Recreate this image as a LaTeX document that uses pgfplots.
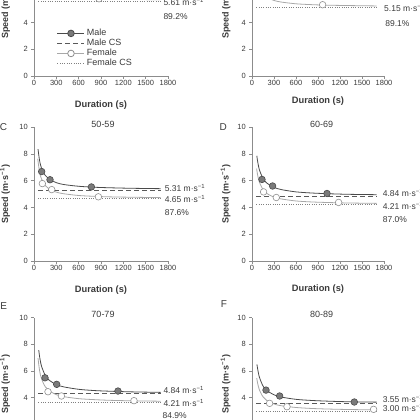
\documentclass[border=0pt]{standalone}
\usepackage{fontspec}
\setmainfont{Liberation Sans}
\usepackage{pgfplots}
\pgfplotsset{compat=1.18}
\definecolor{axisgray}{HTML}{8C8C8C}
\definecolor{maleline}{HTML}{4A4A4A}
\definecolor{malefill}{HTML}{7A7A7A}
\definecolor{malecs}{HTML}{595959}
\definecolor{femline}{HTML}{A8A8A8}
\definecolor{femmark}{HTML}{8F8F8F}
\definecolor{femcs}{HTML}{808080}
\definecolor{txt}{HTML}{3A3A3A}
\pgfplotsset{
 /pgf/number format/assume math mode=true,
 /pgf/number format/1000 sep={},
 panel/.style={scale only axis, height=133.7pt, xmin=0, xmax=1800, ymin=0, ymax=10,
   axis x line*=bottom, axis y line*=left,
   axis line style={draw=axisgray, line width=0.6pt},
   xtick={0,300,...,1800}, ytick={0,2,...,10},
   tick align=outside, major tick length=3pt,
   tick style={draw=axisgray, line width=0.6pt},
   ticklabel style={font=\fontsize{7.5}{9}\selectfont, text=txt},
   xticklabel style={inner sep=1.5pt},
   yticklabel style={inner sep=1.5pt, xshift=-1.5pt},
   clip=false, anchor=south west},
 mcurve/.style={maleline, line width=0.8pt, smooth, no marks},
 mpts/.style={only marks, mark=*, mark size=3.3pt, mark options={fill=malefill, draw=maleline, line width=0.6pt}},
 mcsl/.style={malecs, line width=1pt, dash pattern=on 5pt off 3pt, no marks},
 fcurve/.style={femline, line width=0.8pt, smooth, no marks},
 fpts/.style={only marks, mark=*, mark size=3.3pt, mark options={fill=white, draw=femmark, line width=0.6pt}},
 fcsl/.style={femcs, line width=0.9pt, dash pattern=on 1pt off 1.3pt, no marks},
}
\tikzset{vlab/.style={anchor=west, font=\fontsize{8.5}{10}\selectfont, text=txt, inner sep=0pt},
 xl/.style={font=\fontsize{9.3}{11}\selectfont\bfseries, text=txt},
 yl/.style={font=\fontsize{9}{11}\selectfont\bfseries, text=txt, rotate=90},
 ttl/.style={font=\fontsize{9}{11}\selectfont, text=txt},
 let/.style={font=\fontsize{10}{12}\selectfont, text=txt}}
\begin{document}
\begin{tikzpicture}
\path[use as bounding box] (0,0) rectangle (420pt,-420pt);
\clip (0,0) rectangle (420pt,-420pt);

% ---------- Panel A ----------
\begin{axis}[panel, width=134pt, at={(34pt,-76pt)},
  legend style={at={(axis description cs:0.17,0.365)}, anchor=north west, draw=none, fill=none,
    font=\fontsize{9}{10}\selectfont, text=txt, cells={anchor=west}, inner sep=0pt, row sep=-2pt},
  legend image code/.code={\draw[mark repeat=2,mark phase=2,#1] plot coordinates {(0pt,0pt) (13.5pt,0pt) (27pt,0pt)};}]
\addlegendimage{maleline, line width=0.8pt, mark=*, mark size=3.3pt, mark options={fill=malefill, draw=maleline, solid}}
\addlegendentry{Male}
\addlegendimage{mcsl}
\addlegendentry{Male CS}
\addlegendimage{femline, line width=0.8pt, mark=*, mark size=3.3pt, mark options={fill=white, draw=femmark, solid}}
\addlegendentry{Female}
\addlegendimage{fcsl}
\addlegendentry{Female CS}
\addplot[mcsl, forget plot] coordinates {(60,6.29) (1700,6.29)};
\addplot[fcsl, forget plot] coordinates {(60,5.61) (1700,5.61)};
\addplot[mcurve, forget plot] coordinates {(55,9.56) (75,8.69) (100,8.09) (150,7.49) (200,7.19) (300,6.89) (400,6.74) (600,6.59) (800,6.52) (1000,6.47) (1300,6.43) (1700,6.40)};
\addplot[fcurve, forget plot] coordinates {(50,8.61) (75,7.61) (100,7.11) (150,6.61) (200,6.36) (300,6.11) (400,5.99) (600,5.86) (800,5.80) (1000,5.76) (1300,5.73) (1700,5.70)};
\addplot[mpts, forget plot] coordinates {(95,7.95) (210,7.15) (760,6.52)};
\addplot[fpts, forget plot] coordinates {(105,7.0) (230,6.25) (873,5.78)};
\node[vlab] at (axis cs:1737,6.5) {6.29 m·s\textsuperscript{−1}};
\node[vlab] at (axis cs:1737,5.56) {5.61 m·s\textsuperscript{−1}};
\node[vlab] at (axis cs:1737,4.44) {89.2\%};
\node[xl] at (axis description cs:0.5,-0.217) {Duration (s)};
\node[yl] at (axis description cs:-0.215,0.5) {Speed (m·s\textsuperscript{−1})};
\end{axis}

% ---------- Panel B ----------
\begin{axis}[panel, width=132pt, at={(252pt,-76pt)}]
\addplot[mcsl] coordinates {(60,5.78) (1700,5.78)};
\addplot[fcsl] coordinates {(60,5.15) (1700,5.15)};
\addplot[mcurve] coordinates {(55,8.87) (75,8.05) (100,7.48) (150,6.91) (200,6.63) (300,6.35) (400,6.21) (600,6.06) (800,5.99) (1000,5.95) (1300,5.91) (1700,5.88)};
\addplot[fcurve] coordinates {(50,8.15) (75,7.15) (100,6.65) (150,6.15) (200,5.90) (300,5.65) (400,5.53) (600,5.40) (800,5.34) (1000,5.30) (1300,5.27) (1700,5.24)};
\addplot[mpts] coordinates {(100,7.3) (220,6.55) (800,6.0)};
\addplot[fpts] coordinates {(110,6.45) (250,6.0) (963,5.33)};
\node[vlab] at (axis cs:1800,5.98) {5.78 m·s\textsuperscript{−1}};
\node[vlab] at (axis cs:1800,5.06) {5.15 m·s\textsuperscript{−1}};
\node[vlab] at (axis cs:1815,3.94) {89.1\%};
\node[xl] at (axis description cs:0.5,-0.19) {Duration (s)};
\node[yl] at (axis description cs:-0.2,0.5) {Speed (m·s\textsuperscript{−1})};
\end{axis}

% ---------- Panel C ----------
\begin{axis}[panel, width=134pt, at={(34pt,-261pt)}]
\addplot[mcsl] coordinates {(60,5.31) (1700,5.31)};
\addplot[fcsl] coordinates {(55,4.65) (1700,4.65)};
\addplot[mcurve] coordinates {(54,8.37) (75,7.51) (100,6.96) (150,6.41) (200,6.14) (300,5.86) (400,5.72) (600,5.59) (800,5.52) (1000,5.48) (1300,5.44) (1700,5.41)};
\addplot[fcurve] coordinates {(50,7.65) (75,6.65) (100,6.15) (150,5.65) (200,5.40) (300,5.15) (400,5.03) (600,4.90) (800,4.84) (1000,4.80) (1300,4.77) (1700,4.74)};
\addplot[mpts] coordinates {(103,6.69) (215,6.08) (771,5.54)};
\addplot[fpts] coordinates {(112,5.79) (238,5.34) (865,4.80)};
\node[vlab] at (axis cs:1755,5.48) {5.31 m·s\textsuperscript{−1}};
\node[vlab] at (axis cs:1755,4.61) {4.65 m·s\textsuperscript{−1}};
\node[vlab] at (axis cs:1755,3.61) {87.6\%};
\node[xl] at (axis description cs:0.5,-0.217) {Duration (s)};
\node[yl] at (axis description cs:-0.215,0.5) {Speed (m·s\textsuperscript{−1})};
\end{axis}

% ---------- Panel D ----------
\begin{axis}[panel, width=132pt, at={(252pt,-261pt)}]
\addplot[mcsl] coordinates {(60,4.84) (1700,4.84)};
\addplot[fcsl] coordinates {(60,4.21) (1700,4.21)};
\addplot[mcurve] coordinates {(66,7.87) (75,7.51) (100,6.84) (150,6.17) (200,5.84) (300,5.51) (400,5.34) (600,5.17) (800,5.09) (1000,5.04) (1300,4.99) (1700,4.96)};
\addplot[fcurve] coordinates {(63,6.91) (75,6.48) (100,5.91) (150,5.34) (200,5.06) (300,4.78) (400,4.64) (600,4.49) (800,4.42) (1000,4.38) (1300,4.34) (1700,4.31)};
\addplot[mpts] coordinates {(136,6.10) (281,5.61) (1023,5.05)};
\addplot[fpts] coordinates {(158,5.17) (331,4.75) (1181,4.38)};
\node[vlab] at (axis cs:1782,5.06) {4.84 m·s\textsuperscript{−1}};
\node[vlab] at (axis cs:1782,4.14) {4.21 m·s\textsuperscript{−1}};
\node[vlab] at (axis cs:1782,3.07) {87.0\%};
\node[xl] at (axis description cs:0.5,-0.213) {Duration (s)};
\node[yl] at (axis description cs:-0.2,0.5) {Speed (m·s\textsuperscript{−1})};
\end{axis}

% ---------- Panel E ----------
\begin{axis}[panel, width=134pt, at={(34pt,-451.2pt)}]
\addplot[mcsl] coordinates {(60,4.28) (1700,4.28)};
\addplot[fcsl] coordinates {(60,3.63) (1700,3.63)};
\addplot[mcurve] coordinates {(64,7.56) (75,7.08) (100,6.38) (150,5.68) (200,5.33) (300,4.98) (400,4.81) (600,4.63) (800,4.54) (1000,4.49) (1300,4.44) (1700,4.40)};
\addplot[fcurve] coordinates {(54,6.96) (75,6.03) (100,5.43) (150,4.83) (200,4.53) (300,4.23) (400,4.08) (600,3.93) (800,3.86) (1000,3.81) (1300,3.77) (1700,3.74)};
\addplot[mpts] coordinates {(148,5.49) (305,5.0) (1128,4.5)};
\addplot[fpts] coordinates {(188,4.45) (368,4.13) (1343,3.78)};
\node[vlab] at (axis cs:1737,4.58) {4.84 m·s\textsuperscript{−1}};
\node[vlab] at (axis cs:1737,3.63) {4.21 m·s\textsuperscript{−1}};
\node[vlab] at (axis cs:1725,2.64) {84.9\%};
\node[xl] at (axis description cs:0.5,-0.217) {Duration (s)};
\node[yl] at (axis description cs:-0.215,0.5) {Speed (m·s\textsuperscript{−1})};
\end{axis}

% ---------- Panel F ----------
\begin{axis}[panel, width=132pt, at={(252pt,-451.2pt)}]
\addplot[mcsl] coordinates {(60,3.55) (1700,3.55)};
\addplot[fcsl] coordinates {(60,3.00) (1700,3.00)};
\addplot[mcurve] coordinates {(68,6.49) (75,6.22) (100,5.55) (150,4.88) (200,4.55) (300,4.22) (400,4.05) (600,3.88) (800,3.80) (1000,3.75) (1300,3.70) (1700,3.67)};
\addplot[fcurve] coordinates {(65,5.46) (75,5.13) (100,4.60) (150,4.07) (200,3.80) (300,3.53) (400,3.40) (600,3.27) (800,3.20) (1000,3.16) (1300,3.12) (1700,3.09)};
\addplot[mpts] coordinates {(191,4.57) (377,4.13) (1395,3.68)};
\addplot[fpts] coordinates {(240,3.58) (477,3.33) (1658,3.13)};
\node[vlab] at (axis cs:1782,3.91) {3.55 m·s\textsuperscript{−1}};
\node[vlab] at (axis cs:1782,3.26) {3.00 m·s\textsuperscript{−1}};
\node[vlab] at (axis cs:1782,2.0) {84.5\%};
\node[xl] at (axis description cs:0.5,-0.217) {Duration (s)};
\node[yl] at (axis description cs:-0.2,0.5) {Speed (m·s\textsuperscript{−1})};
\end{axis}

% ---------- panel letters and titles ----------
\node[let] at (3.5pt,-126.7pt) {C};
\node[let] at (223.3pt,-126.7pt) {D};
\node[let] at (3.8pt,-305.7pt) {E};
\node[let] at (224pt,-304.5pt) {F};
\node[ttl] at (103pt,-124.5pt) {50-59};
\node[ttl] at (321.7pt,-124.5pt) {60-69};
\node[ttl] at (103pt,-314.3pt) {70-79};
\node[ttl] at (321.7pt,-314.3pt) {80-89};
\end{tikzpicture}
\end{document}
